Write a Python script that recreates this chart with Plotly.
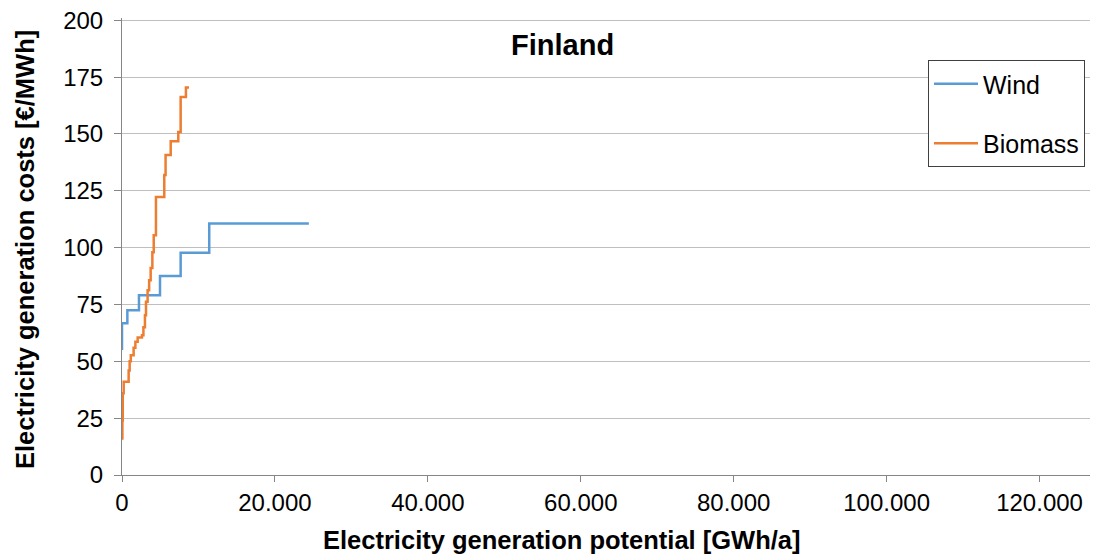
import plotly.graph_objects as go

# Step curves: cumulative potential [GWh/a] vs cost [€/MWh]
wind_x = [0, 0, 700, 2220, 4970, 7670, 11410, 24440]
wind_y = [55, 66.7, 72.5, 79.1, 87.5, 97.7, 110.6, 110.6]

biomass_x = [0, 50, 100, 220, 870, 1000, 1150, 1520, 1750, 2050, 2610, 2800, 3000,
             3140, 3350, 3550, 3750, 3970, 4150, 4440, 5530, 5700, 6370, 7360, 7670,
             8360, 8760]
biomass_y = [16, 24, 36, 41, 46, 50, 52.7, 56, 58.6, 60.5, 61.5, 65, 70.3,
             76.2, 81.3, 85.7, 91, 98, 105.5, 122.3, 131.9, 140.7, 146.8, 150.9, 166.3,
             170.4, 170.4]

x_ticks = [0, 20000, 40000, 60000, 80000, 100000, 120000]
y_ticks = [0, 25, 50, 75, 100, 125, 150, 175, 200]

font = "Liberation Sans, Arial, sans-serif"
grid = "#bfbfbf"
axis = "#868686"

# plot area on the page: x 122..1090, y 18..475 (page has 8px body margin)
PW, PH = 968, 457


def px(x):
    return (x - 122) / PW


def py(y):
    return (475 - y) / PH


fig = go.Figure()
fig.add_trace(go.Scatter(x=wind_x, y=wind_y, mode="lines", name="Wind",
                         line=dict(color="#5B9BD5", width=2.5, shape="hv"),
                         legendgroup="a"))
fig.add_trace(go.Scatter(x=biomass_x, y=biomass_y, mode="lines", name="Biomass",
                         line=dict(color="#ED7D31", width=2.5, shape="hv"),
                         legendgroup="b"))

fig.update_layout(
    width=1100, height=548,
    margin=dict(l=114, r=18, t=10, b=81),
    paper_bgcolor="white", plot_bgcolor="white",
    font=dict(family=font, size=24, color="#000000"),
    separators=",.",
    showlegend=True,
    legend=dict(x=px(928), y=py(60), xanchor="left", yanchor="top",
                bordercolor="#404040", borderwidth=1, bgcolor="white",
                font=dict(size=25), tracegroupgap=24, traceorder="grouped",
                itemwidth=44),
)
fig.add_annotation(text="<b>Finland</b>", xref="paper", yref="paper",
                   x=px(562), y=py(45), yanchor="middle",
                   showarrow=False, font=dict(size=29))
fig.add_annotation(text="<b>Electricity generation potential [GWh/a]</b>",
                   xref="paper", yref="paper", x=px(561), y=py(540),
                   yanchor="middle", showarrow=False, font=dict(size=25.5))
fig.add_annotation(text="<b>Electricity generation costs [€/MWh]</b>",
                   xref="paper", yref="paper", x=px(25), y=py(250),
                   textangle=-90, xanchor="center", yanchor="middle",
                   showarrow=False, font=dict(size=25.5))

fig.update_xaxes(range=[0, 126600], tickvals=x_ticks, tickformat=",d",
                 showgrid=False, zeroline=False,
                 showline=True, linecolor=axis, linewidth=1,
                 ticks="outside", ticklen=6, tickcolor=axis,
                 ticklabeloverflow="allow", automargin=False)
fig.update_yaxes(range=[0, 201], tickvals=y_ticks,
                 showgrid=True, gridcolor=grid, gridwidth=1, zeroline=False,
                 showline=True, linecolor=axis, linewidth=1,
                 ticks="outside", ticklen=7, tickcolor=axis,
                 ticklabelstandoff=6, ticklabeloverflow="allow", automargin=False)

fig.write_html("out.html")
